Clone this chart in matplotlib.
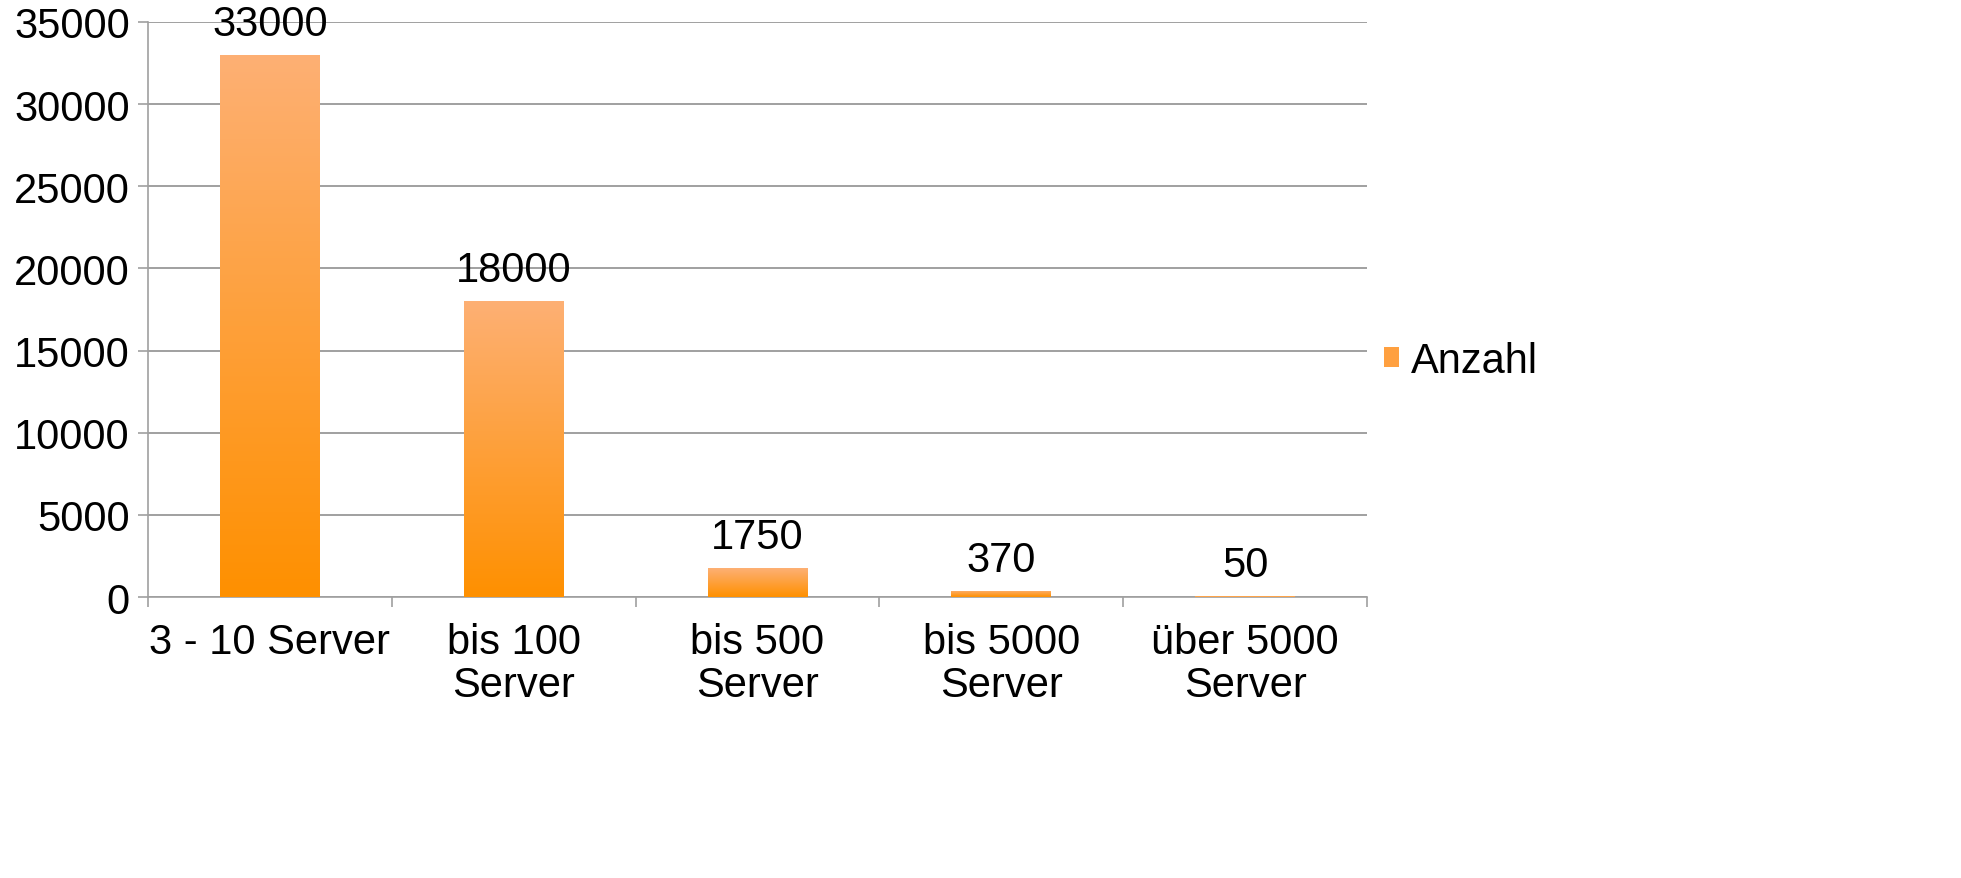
import numpy as np
import matplotlib
matplotlib.use("Agg")
import matplotlib.pyplot as plt
from matplotlib.colors import LinearSegmentedColormap
from matplotlib.patches import Patch

# Daten
kategorien = ["3 - 10 Server", "bis 100\nServer", "bis 500\nServer",
              "bis 5000\nServer", "über 5000\nServer"]
anzahl = [33000, 18000, 1750, 370, 50]
serie = "Anzahl"

plt.rcParams["font.family"] = ["Liberation Sans", "DejaVu Sans"]
fs = 30

fig = plt.figure(figsize=(19.61, 8.79), dpi=100)
ax = fig.add_axes([148 / 1961, 1 - 598 / 879, (1367 - 148) / 1961, (598 - 23) / 879])

x = np.arange(len(kategorien))
balken = ax.bar(x, anzahl, width=0.41, color="none", zorder=3)

# Farbverlauf in jedem Balken (oben hell, unten kräftig)
verlauf = LinearSegmentedColormap.from_list("orange", ["#FF9000", "#FDB074"])
grad = np.linspace(0, 1, 256).reshape(-1, 1)
for b in balken:
    x0, y0 = b.get_x(), b.get_y()
    w, h = b.get_width(), b.get_height()
    im = ax.imshow(grad, cmap=verlauf, origin="lower", aspect="auto",
                   extent=(x0, x0 + w, y0, y0 + h), zorder=3)
    im.set_clip_path(b)

# Werte über den Balken
for xi, v in zip(x, anzahl):
    ax.annotate(str(v), (xi, v), xytext=(0, 8), textcoords="offset points",
                ha="center", va="bottom", fontsize=fs)

ax.set_xlim(-0.5, len(kategorien) - 0.5)
ax.set_ylim(0, 35000)
ax.set_yticks(range(0, 35001, 5000))
ax.set_xticks(x)
ax.set_xticklabels(kategorien, fontsize=fs, linespacing=1.1)
ax.set_xticks(np.arange(-0.5, len(kategorien)), minor=True)
ax.tick_params(axis="x", which="major", length=0, pad=18)
ax.tick_params(axis="x", which="minor", length=7, width=1.2, color="#A0A0A0")
ax.tick_params(axis="y", length=7, width=1.2, color="#A0A0A0", labelsize=fs, pad=6)

ax.grid(axis="y", color="#A0A0A0", linewidth=1.4, zorder=0)
ax.set_axisbelow(True)
for s in ["top", "right"]:
    ax.spines[s].set_visible(False)
for s in ["left", "bottom"]:
    ax.spines[s].set_color("#A0A0A0")
    ax.spines[s].set_linewidth(1.2)

ax.legend(handles=[Patch(facecolor="#FFA040", label=serie)],
          loc="center left", bbox_to_anchor=(1.0, 0.41), frameon=False,
          fontsize=fs, handlelength=0.36, handleheight=0.36, handletextpad=0.3,
          borderaxespad=0.0)

fig.savefig("out.png", dpi=100)
